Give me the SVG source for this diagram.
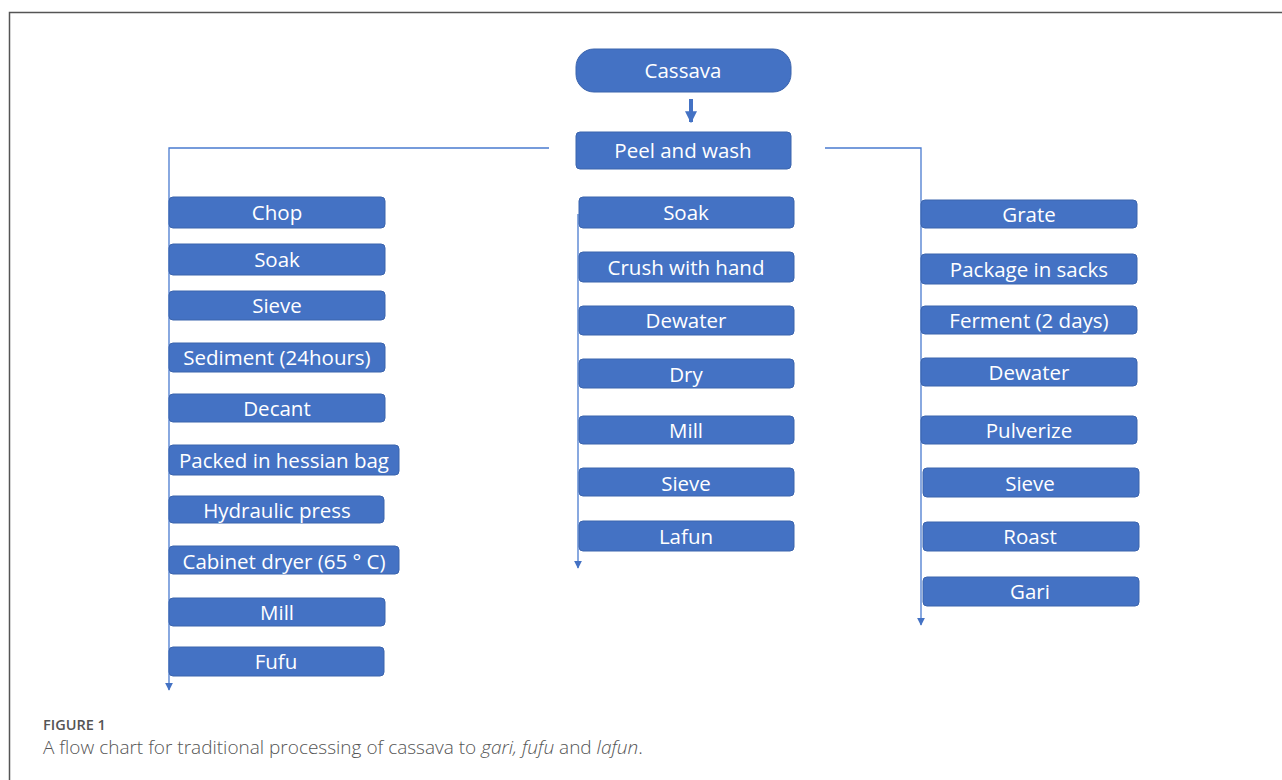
<svg xmlns="http://www.w3.org/2000/svg" width="1282" height="780" viewBox="0 0 1282 780">
<style>
.box{fill:#4472C4;stroke:#3B64AD;stroke-width:1}
.lbl{font-family:"Open Sans","Noto Sans","Liberation Sans",sans-serif;font-size:20.5px;fill:#ffffff;text-anchor:middle;dominant-baseline:central}
.ln{stroke:#4A7BD0;stroke-width:1.3;fill:none}
.cap{font-family:"Open Sans","Noto Sans","Liberation Sans",sans-serif;fill:#555555}
</style>
<defs>
<marker id="ah" viewBox="0 0 10 10" refX="9" refY="5" markerWidth="8" markerHeight="8" markerUnits="userSpaceOnUse" orient="auto"><path d="M0,0 L10,5 L0,10 z" fill="#4472C4"/></marker>
<marker id="ahb" viewBox="0 0 10 10" refX="9" refY="5" markerWidth="3" markerHeight="3" orient="auto"><path d="M0,0 L10,5 L0,10 z" fill="#4472C4"/></marker>
</defs>
<rect x="0" y="0" width="1282" height="780" fill="#ffffff"/>
<path d="M9.5,780 L9.5,12.5 L1290,12.5" fill="none" stroke="#555555" stroke-width="1.5"/>

<g id="connectors">
<line x1="691" y1="99" x2="691" y2="122" stroke="#4472C4" stroke-width="4" marker-end="url(#ahb)"/>
<polyline class="ln" points="549,148 169,148 169,690" marker-end="url(#ah)"/>
<polyline class="ln" points="825,148 921,148 921,625" marker-end="url(#ah)"/>
<line class="ln" x1="578" y1="214" x2="578" y2="568" marker-end="url(#ah)"/>
</g>

<g id="cassava"><rect class="box" x="576" y="49" width="215" height="43" rx="18"/><text class="lbl" x="683" y="70">Cassava</text></g>
<g id="peel"><rect class="box" x="576" y="132" width="215" height="37" rx="4"/><text class="lbl" x="683" y="150">Peel and wash</text></g>

<g id="l-chop"><rect class="box" x="169" y="197" width="216" height="31" rx="4"/><text class="lbl" x="277" y="212">Chop</text></g>
<g id="l-soak"><rect class="box" x="169" y="244" width="216" height="31" rx="4"/><text class="lbl" x="277" y="259">Soak</text></g>
<g id="l-sieve"><rect class="box" x="169" y="291" width="216" height="29" rx="4"/><text class="lbl" x="277" y="305">Sieve</text></g>
<g id="l-sediment"><rect class="box" x="169" y="343" width="216" height="29" rx="4"/><text class="lbl" x="277" y="357">Sediment (24hours)</text></g>
<g id="l-decant"><rect class="box" x="169" y="394" width="216" height="28" rx="4"/><text class="lbl" x="277" y="408">Decant</text></g>
<g id="l-packed"><rect class="box" x="169" y="445" width="230" height="30" rx="4"/><text class="lbl" x="284" y="460">Packed in hessian bag</text></g>
<g id="l-hydraulic"><rect class="box" x="169" y="496" width="215" height="27" rx="4"/><text class="lbl" x="277" y="510">Hydraulic press</text></g>
<g id="l-cabinet"><rect class="box" x="169" y="546" width="230" height="28" rx="4"/><text class="lbl" x="284" y="561">Cabinet dryer (65 ° C)</text></g>
<g id="l-mill"><rect class="box" x="169" y="598" width="216" height="28" rx="4"/><text class="lbl" x="277" y="612">Mill</text></g>
<g id="l-fufu"><rect class="box" x="169" y="647" width="215" height="29" rx="4"/><text class="lbl" x="276" y="661">Fufu</text></g>

<g id="m-soak"><rect class="box" x="579" y="197" width="215" height="31" rx="4"/><text class="lbl" x="686" y="212">Soak</text></g>
<g id="m-crush"><rect class="box" x="579" y="252" width="215" height="30" rx="4"/><text class="lbl" x="686" y="267">Crush with hand</text></g>
<g id="m-dewater"><rect class="box" x="579" y="306" width="215" height="29" rx="4"/><text class="lbl" x="686" y="320">Dewater</text></g>
<g id="m-dry"><rect class="box" x="579" y="359" width="215" height="29" rx="4"/><text class="lbl" x="686" y="374">Dry</text></g>
<g id="m-mill"><rect class="box" x="579" y="416" width="215" height="28" rx="4"/><text class="lbl" x="686" y="430">Mill</text></g>
<g id="m-sieve"><rect class="box" x="579" y="468" width="215" height="28" rx="4"/><text class="lbl" x="686" y="483">Sieve</text></g>
<g id="m-lafun"><rect class="box" x="579" y="521" width="215" height="30" rx="4"/><text class="lbl" x="686" y="536">Lafun</text></g>

<g id="r-grate"><rect class="box" x="921" y="200" width="216" height="28" rx="4"/><text class="lbl" x="1029" y="214">Grate</text></g>
<g id="r-package"><rect class="box" x="921" y="254" width="216" height="30" rx="4"/><text class="lbl" x="1029" y="269">Package in sacks</text></g>
<g id="r-ferment"><rect class="box" x="921" y="306" width="216" height="28" rx="4"/><text class="lbl" x="1029" y="320">Ferment (2 days)</text></g>
<g id="r-dewater"><rect class="box" x="921" y="358" width="216" height="28" rx="4"/><text class="lbl" x="1029" y="372">Dewater</text></g>
<g id="r-pulverize"><rect class="box" x="921" y="416" width="216" height="28" rx="4"/><text class="lbl" x="1029" y="430">Pulverize</text></g>
<g id="r-sieve"><rect class="box" x="923" y="468" width="216" height="29" rx="4"/><text class="lbl" x="1030" y="483">Sieve</text></g>
<g id="r-roast"><rect class="box" x="923" y="522" width="216" height="29" rx="4"/><text class="lbl" x="1030" y="536">Roast</text></g>
<g id="r-gari"><rect class="box" x="923" y="577" width="216" height="29" rx="4"/><text class="lbl" x="1030" y="591">Gari</text></g>

<text class="cap" x="43" y="730" font-size="14.5" font-weight="600">FIGURE 1</text>
<text class="cap" x="43" y="754" font-size="19" font-weight="300">A flow chart for traditional processing of cassava to <tspan font-style="italic">gari, fufu</tspan> and <tspan font-style="italic">lafun</tspan>.</text>
</svg>
